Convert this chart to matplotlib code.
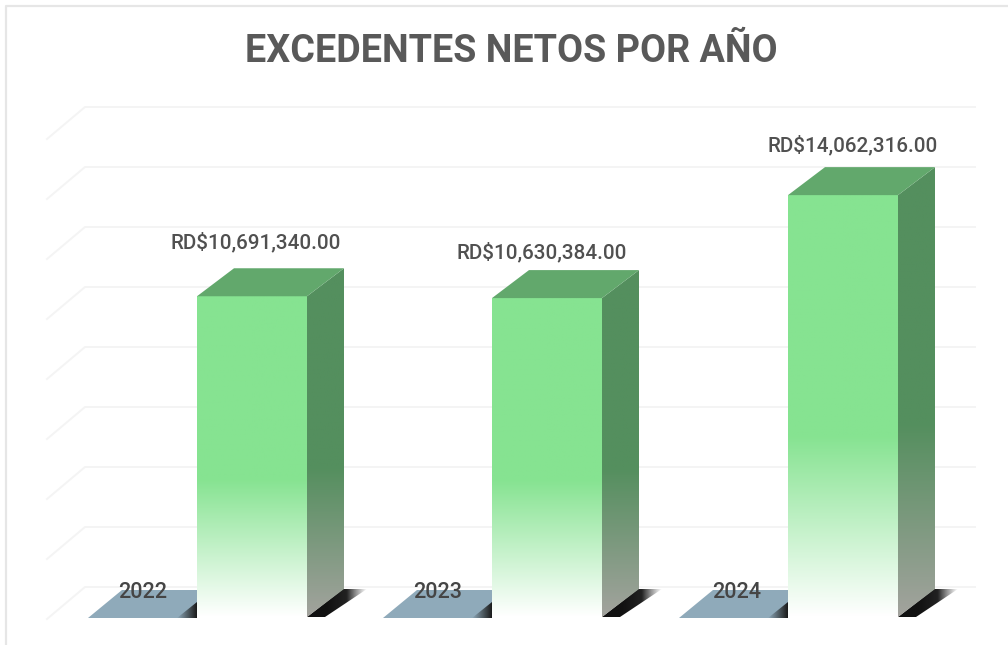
#!/usr/bin/env python3
"""Excedentes netos por año, faked 3D columns."""

import matplotlib
matplotlib.use("Agg")
import matplotlib.pyplot as plt
import numpy as np
from matplotlib.colors import LinearSegmentedColormap, to_rgb
from matplotlib.patches import Polygon

years = ["2022", "2023", "2024"]
values = [10691340.00, 10630384.00, 14062316.00]
grid_values = [0, 2e6, 4e6, 6e6, 8e6, 10e6, 12e6, 14e6, 16e6]

# layout, x is in pixels, y in value units (30 px per million)
PX = 1e6 / 30
BAR_LEFT = [197, 492, 788]
BAR_W = 110
DX, DY = 37, 28 * PX
LABEL_X = [256, 542, 853]
LABEL_GAP = [26, 18, 22]
YEAR_X = [143, 438, 737]

FRONT = "#86E391"
TOP = "#62A86C"
SIDE = "#548F5E"
SIDE_LOW = "#A3A39E"
FLOOR = "#8FAABA"
GRID = "#F4F4F4"
TEXT = "#505050"

fig = plt.figure(figsize=(10.08, 6.45), dpi=100)
ax = fig.add_axes([0, 0, 1, 1])
ax.set_xlim(0, 1008)
ax.set_ylim(-28 * PX, 617 * PX)
ax.axis("off")


def gradient_poly(pts, colors, z, vertical=True, stops=None):
    """Fill a polygon with a gradient clipped to it."""
    pts = np.array(pts)
    poly = Polygon(pts, closed=True, fc="none", ec="none", zorder=z)
    ax.add_patch(poly)
    cmap = LinearSegmentedColormap.from_list("g", colors)
    ramp = np.linspace(0, 1, 256)
    if stops is not None:
        ramp = np.clip(ramp / stops, 0, 1)
    img = ramp[:, None] if vertical else ramp[None, :]
    ext = [pts[:, 0].min(), pts[:, 0].max(), pts[:, 1].min(), pts[:, 1].max()]
    im = ax.imshow(img, extent=ext, origin="lower", cmap=cmap, vmin=0, vmax=1,
                   aspect="auto", zorder=z, interpolation="bilinear")
    im.set_clip_path(poly)


# grid, back wall and left wall
for g in grid_values:
    ax.plot([975, 85, 47], [g + 30 * PX, g + 30 * PX, g - 2 * PX],
            color=GRID, lw=1.4, zorder=1, solid_joinstyle="round")

for left, val, lx, gap, year, yx in zip(BAR_LEFT, values, LABEL_X, LABEL_GAP, years, YEAR_X):
    right = left + BAR_W

    # floor patch left of the column and the shadows
    ax.add_patch(Polygon([(left - 109, -1 * PX), (left, -1 * PX), (left, DY - 1 * PX),
                          (left - 75, DY - 1 * PX)], closed=True, fc=FLOOR, ec="none", zorder=2))
    gradient_poly([(left - 20, -1 * PX), (left, -1 * PX), (left, 15 * PX)],
                  [(*to_rgb(FLOOR), 1), "#1A1A1A"], 3, vertical=False)
    gradient_poly([(right, 0), (right + 18, 0), (right + 60, DY), (right + 36, DY)],
                  ["#111111", "#111111", "#222222", (0.3, 0.3, 0.3, 0.0)], 3, vertical=False)

    # column faces
    gradient_poly([(left, 0), (right, 0), (right, val), (left, val)],
                  ["#FFFFFF", FRONT], 4, stops=0.43)
    gradient_poly([(right, 0), (right + DX, DY), (right + DX, val + DY), (right, val)],
                  [SIDE_LOW, SIDE], 4, stops=0.43)
    ax.add_patch(Polygon([(left, val), (right, val), (right + DX, val + DY), (left + DX, val + DY)],
                         closed=True, fc=TOP, ec="none", zorder=5))

    ax.text(lx, val + DY + gap * PX, f"RD${val:,.2f}", ha="center", va="center",
            fontsize=14.9, color=TEXT, family="Roboto", fontweight="medium", zorder=6)
    ax.text(yx, 24 * PX, year, ha="center", va="center", fontsize=15.5,
            color="#454545", family="Roboto", fontweight="medium", zorder=6)

# chart border, only the top and left edges are in the crop
ax.plot([6, 6, 1008], [-28 * PX, 611 * PX, 611 * PX], color="#E6E6E6", lw=1.6, zorder=1)

ax.text(511, 565 * PX, "EXCEDENTES NETOS POR AÑO", ha="center", va="center",
        fontsize=27.2, color="#595959", family="Roboto", fontweight="bold", zorder=6)

fig.savefig("out.png", dpi=100, facecolor="white")
